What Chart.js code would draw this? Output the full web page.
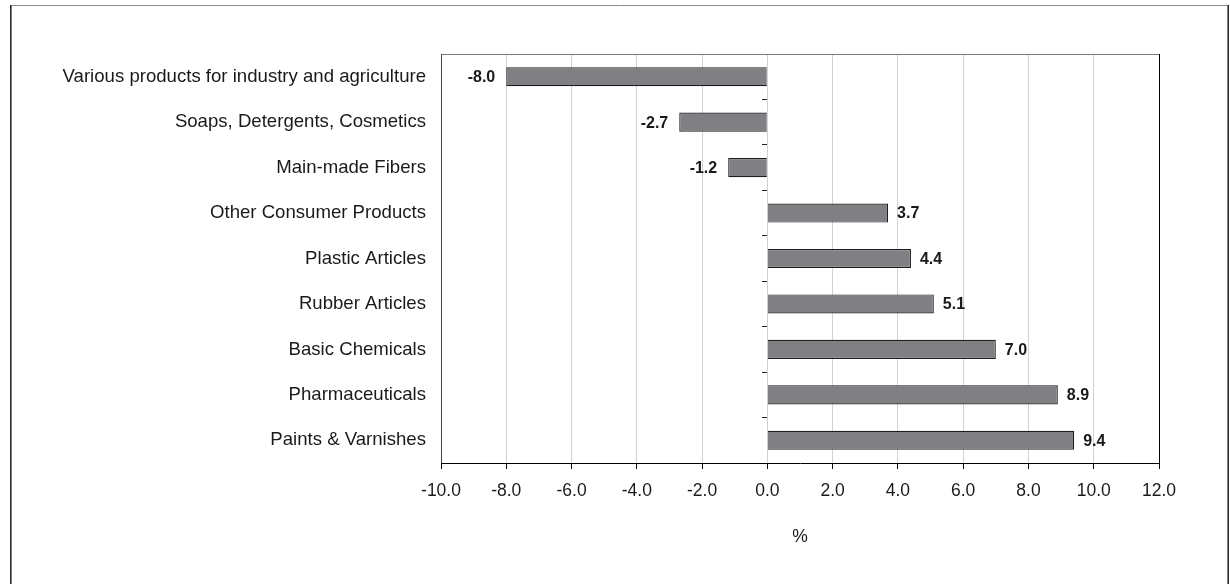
<!DOCTYPE html>
<html>
<head>
<meta charset="utf-8">
<script src="https://cdn.jsdelivr.net/npm/chart.js@4.4.1/dist/chart.umd.min.js"></script>
<style>
  html, body { margin: 0; padding: 0; background: #fff; }
  #wrap { position: relative; width: 1230px; height: 584px; }
</style>
</head>
<body>
<div id="wrap"><canvas id="c" width="1230" height="584"></canvas></div>
<script>
// Categories, top to bottom
const categories = [
  'Various products for industry and agriculture',
  'Soaps, Detergents, Cosmetics',
  'Main-made Fibers',
  'Other Consumer Products',
  'Plastic Articles',
  'Rubber Articles',
  'Basic Chemicals',
  'Pharmaceuticals',
  'Paints & Varnishes'
];
// Change, %
const changes = [-8.0, -2.7, -1.2, 3.7, 4.4, 5.1, 7.0, 8.9, 9.4];
// Value axis
const xMin = -10;
const xMax = 12;
const xStep = 2;
const xTitle = '%';

const FONT = "'Liberation Sans', Arial, sans-serif";

// Value labels next to each bar end
const valueLabels = {
  id: 'valueLabels',
  afterDatasetsDraw(chart) {
    const ctx = chart.ctx;
    const meta = chart.getDatasetMeta(0);
    ctx.save();
    ctx.font = 'bold 16px ' + FONT;
    ctx.fillStyle = '#1a1a1a';
    ctx.textBaseline = 'middle';
    meta.data.forEach((bar, i) => {
      const v = changes[i];
      const txt = v.toFixed(1);
      if (v < 0) {
        ctx.textAlign = 'right';
        ctx.fillText(txt, bar.x - 11, bar.y + 1);
      } else {
        ctx.textAlign = 'left';
        ctx.fillText(txt, bar.x + 9, bar.y + 1);
      }
    });
    ctx.restore();
  }
};

// Plot-area frame and outer frame
const frames = {
  id: 'frames',
  afterDraw(chart) {
    const { ctx, chartArea: a } = chart;
    ctx.save();
    // plot area
    ctx.lineWidth = 1;
    ctx.strokeStyle = '#7a7a7a';
    ctx.beginPath(); ctx.moveTo(a.left, a.top + 0.5); ctx.lineTo(a.right, a.top + 0.5); ctx.stroke();
    ctx.strokeStyle = '#444';
    ctx.beginPath(); ctx.moveTo(a.left + 0.5, a.top); ctx.lineTo(a.left + 0.5, a.bottom); ctx.stroke();
    ctx.strokeStyle = '#000';
    ctx.beginPath(); ctx.moveTo(a.right + 0.5, a.top); ctx.lineTo(a.right + 0.5, a.bottom); ctx.stroke();
    // outer frame (runs off the bottom)
    ctx.strokeStyle = '#8a8a8a';
    ctx.beginPath(); ctx.moveTo(10, 5.5); ctx.lineTo(1229, 5.5); ctx.stroke();
    ctx.lineWidth = 1.6;
    ctx.strokeStyle = '#2a2a2a';
    ctx.beginPath(); ctx.moveTo(10.8, 5); ctx.lineTo(10.8, 584); ctx.stroke();
    ctx.beginPath(); ctx.moveTo(1228.2, 5); ctx.lineTo(1228.2, 584); ctx.stroke();
    ctx.restore();
  }
};

new Chart(document.getElementById('c'), {
  type: 'bar',
  data: {
    labels: categories,
    datasets: [{
      data: changes,
      backgroundColor: '#808084',
      borderColor: '#1e1e1e',
      borderWidth: 1.2,
      borderSkipped: 'start',
      categoryPercentage: 1,
      barPercentage: 0.42
    }]
  },
  options: {
    indexAxis: 'y',
    responsive: false,
    animation: false,
    events: [],
    layout: { padding: { top: 54, right: 71, left: 0, bottom: 0 } },
    plugins: { legend: { display: false }, tooltip: { enabled: false } },
    scales: {
      x: {
        type: 'linear',
        min: xMin,
        max: xMax,
        ticks: {
          stepSize: xStep,
          color: '#1a1a1a',
          font: { family: FONT, size: 17.5 },
          padding: 12,
          callback: v => Number(v).toFixed(1)
        },
        grid: {
          color: '#d2d2d2',
          lineWidth: 1,
          tickColor: '#000',
          tickLength: 6
        },
        border: { display: true, color: '#000', width: 1 },
        title: {
          display: true,
          text: xTitle,
          color: '#1a1a1a',
          font: { family: FONT, size: 17.5 },
          padding: { top: 0, bottom: 36 }
        },
        afterFit(scale) { scale.height = 121; }
      },
      y: {
        position: 'left',
        ticks: {
          color: '#1a1a1a',
          font: { family: FONT, size: 18.6 },
          padding: 15
        },
        grid: { display: false, drawTicks: false },
        border: { display: false },
        afterFit(scale) { scale.width = 441; }
      },
      yz: {
        type: 'category',
        axis: 'y',
        labels: categories,
        position: { x: 0 },
        offset: true,
        ticks: { display: false },
        grid: {
          offset: true,
          drawOnChartArea: false,
          tickLength: 5,
          tickColor: '#222',
          lineWidth: 1
        },
        border: { display: false }
      }
    }
  },
  plugins: [valueLabels, frames]
});
</script>
</body>
</html>
